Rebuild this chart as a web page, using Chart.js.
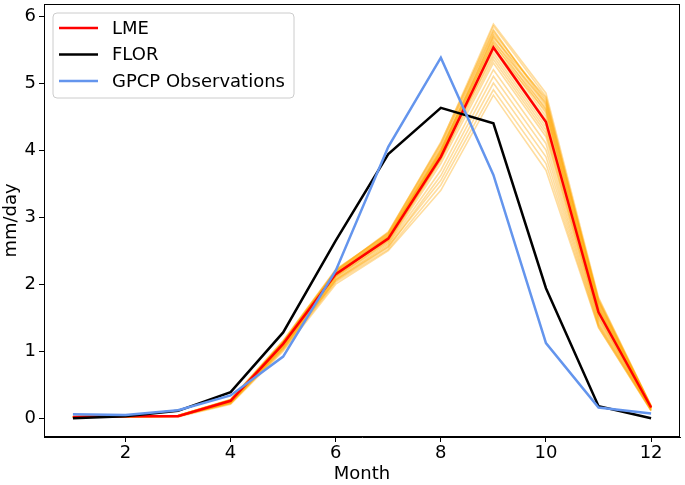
<!DOCTYPE html>
<html>
<head>
<meta charset="utf-8">
<script src="https://cdn.jsdelivr.net/npm/chart.js@4.4.1/dist/chart.umd.min.js"></script>
<style>body{margin:0;background:#fff}</style>
</head>
<body>
<canvas id="chart" width="685" height="485"></canvas>
<script>
var months = [1, 2, 3, 4, 5, 6, 7, 8, 9, 10, 11, 12];
var xTicks = [2, 4, 6, 8, 10, 12];
var yTicks = [0, 1, 2, 3, 4, 5, 6];

var lme = [0.02, 0.03, 0.03, 0.26, 1.11, 2.15, 2.68, 3.90, 5.53, 4.42, 1.58, 0.16];
var flor = [0.00, 0.03, 0.11, 0.39, 1.28, 2.65, 3.94, 4.63, 4.40, 1.94, 0.18, 0.00];
var gpcp = [0.06, 0.05, 0.12, 0.34, 0.92, 2.20, 4.05, 5.38, 3.63, 1.12, 0.16, 0.07];

// individual LME ensemble members (faint orange)
var lmeMembers = [
  [0.02, 0.03, 0.04, 0.28, 1.15, 2.22, 2.75, 4.05, 5.85, 4.80, 1.75, 0.18],
  [0.02, 0.03, 0.03, 0.25, 1.08, 2.12, 2.70, 4.00, 5.78, 4.72, 1.70, 0.17],
  [0.03, 0.03, 0.04, 0.27, 1.13, 2.18, 2.72, 3.98, 5.72, 4.65, 1.68, 0.17],
  [0.02, 0.02, 0.03, 0.24, 1.10, 2.16, 2.66, 3.95, 5.70, 4.60, 1.62, 0.16],
  [0.02, 0.03, 0.03, 0.26, 1.12, 2.20, 2.78, 4.10, 5.88, 4.85, 1.80, 0.19],
  [0.02, 0.03, 0.03, 0.25, 1.09, 2.14, 2.69, 3.92, 5.65, 4.55, 1.60, 0.16],
  [0.02, 0.03, 0.04, 0.27, 1.14, 2.19, 2.74, 4.02, 5.62, 4.70, 1.72, 0.18],
  [0.02, 0.03, 0.03, 0.26, 1.11, 2.17, 2.71, 3.96, 5.60, 4.50, 1.65, 0.16],
  [0.02, 0.02, 0.03, 0.23, 1.06, 2.10, 2.64, 3.88, 5.55, 4.45, 1.55, 0.15],
  [0.02, 0.03, 0.03, 0.25, 1.10, 2.13, 2.67, 3.90, 5.50, 4.40, 1.58, 0.15],
  [0.02, 0.03, 0.03, 0.24, 1.07, 2.11, 2.62, 3.85, 5.45, 4.35, 1.52, 0.14],
  [0.02, 0.03, 0.03, 0.26, 1.12, 2.16, 2.70, 3.94, 5.40, 4.30, 1.50, 0.15],
  [0.02, 0.03, 0.04, 0.28, 1.16, 2.21, 2.76, 4.08, 5.75, 4.75, 1.78, 0.18],
  [0.02, 0.03, 0.03, 0.25, 1.09, 2.12, 2.65, 3.86, 5.35, 4.25, 1.48, 0.14],
  [0.02, 0.02, 0.03, 0.23, 1.05, 2.08, 2.60, 3.80, 5.30, 4.20, 1.45, 0.13],
  [0.02, 0.03, 0.03, 0.24, 1.06, 2.07, 2.58, 3.70, 5.20, 4.10, 1.42, 0.13],
  [0.02, 0.02, 0.03, 0.22, 1.03, 2.05, 2.55, 3.62, 5.10, 4.00, 1.40, 0.12],
  [0.02, 0.03, 0.03, 0.23, 1.04, 2.06, 2.56, 3.55, 5.00, 3.90, 1.38, 0.12],
  [0.02, 0.02, 0.03, 0.22, 1.02, 2.03, 2.52, 3.48, 4.90, 3.80, 1.36, 0.11],
  [0.02, 0.02, 0.02, 0.21, 1.00, 2.00, 2.50, 3.40, 4.82, 3.70, 1.35, 0.11],
  [0.02, 0.03, 0.04, 0.27, 1.13, 2.18, 2.73, 4.00, 5.68, 4.78, 1.74, 0.17],
  [0.02, 0.03, 0.03, 0.26, 1.11, 2.15, 2.70, 3.97, 5.58, 4.62, 1.66, 0.16],
  [0.02, 0.03, 0.03, 0.25, 1.10, 2.14, 2.68, 3.93, 5.52, 4.58, 1.63, 0.16],
  [0.02, 0.03, 0.04, 0.27, 1.14, 2.20, 2.77, 4.12, 5.80, 4.68, 1.76, 0.18]
];

var legendItems = [
  { label: "LME", color: "#ff0000" },
  { label: "FLOR", color: "#000000" },
  { label: "GPCP Observations", color: "#6495ed" }
];

var FONT = "'DejaVu Sans', sans-serif";
var FSIZE = 18;

function toPoints(vals) {
  return vals.map(function (v, i) { return { x: months[i], y: v }; });
}

function line(label, vals, color, width) {
  return {
    label: label,
    data: toPoints(vals),
    borderColor: color,
    borderWidth: width,
    pointRadius: 0,
    tension: 0,
    fill: false
  };
}

// index 0 is drawn on top
var datasets = [
  line("GPCP Observations", gpcp, "#6495ed", 2.5),
  line("FLOR", flor, "#000000", 2.5),
  line("LME", lme, "#ff0000", 2.5)
];
lmeMembers.forEach(function (m, i) {
  datasets.push(line("member " + (i + 1), m, "rgba(255,165,0,0.38)", 1.6));
});

var framePlugin = {
  id: "frame",
  afterDraw: function (chart) {
    var ctx = chart.ctx, a = chart.chartArea;
    ctx.save();
    ctx.strokeStyle = "#000";
    ctx.lineWidth = 1;
    ctx.strokeRect(a.left + 0.5, a.top + 0.5, a.right - a.left - 1, a.bottom - a.top - 1);

    // legend box
    var x = 53, y = 13, w = 241, h = 85, r = 4;
    ctx.beginPath();
    ctx.moveTo(x + r, y);
    ctx.arcTo(x + w, y, x + w, y + h, r);
    ctx.arcTo(x + w, y + h, x, y + h, r);
    ctx.arcTo(x, y + h, x, y, r);
    ctx.arcTo(x, y, x + w, y, r);
    ctx.closePath();
    ctx.fillStyle = "rgba(255,255,255,0.8)";
    ctx.fill();
    ctx.strokeStyle = "#cccccc";
    ctx.stroke();

    ctx.font = FSIZE + "px " + FONT;
    ctx.textBaseline = "middle";
    ctx.textAlign = "left";
    legendItems.forEach(function (it, i) {
      var ly = 28 + i * 26.5;
      ctx.beginPath();
      ctx.strokeStyle = it.color;
      ctx.lineWidth = 2.5;
      ctx.moveTo(59, ly);
      ctx.lineTo(98, ly);
      ctx.stroke();
      ctx.fillStyle = "#000";
      ctx.fillText(it.label, 112, ly + 1);
    });
    ctx.restore();
  }
};

new Chart(document.getElementById("chart"), {
  type: "line",
  data: { datasets: datasets },
  plugins: [framePlugin],
  options: {
    responsive: false,
    animation: false,
    layout: { padding: { top: 4, right: 5, left: 0, bottom: 0 } },
    plugins: { legend: { display: false }, tooltip: { enabled: false } },
    scales: {
      x: {
        type: "linear",
        min: 0.45,
        max: 12.55,
        afterBuildTicks: function (s) { s.ticks = xTicks.map(function (v) { return { value: v }; }); },
        afterFit: function (s) { s.height = 48; s.paddingLeft = 0; s.paddingRight = 0; },
        grid: { drawOnChartArea: false, drawTicks: true, tickLength: 5, color: "#000" },
        border: { display: true, color: "#000" },
        ticks: { color: "#000", font: { family: FONT, size: FSIZE }, padding: 1, maxRotation: 0 },
        title: { display: true, text: "Month", color: "#000", font: { family: FONT, size: FSIZE }, padding: 0 }
      },
      y: {
        min: -0.28,
        max: 6.18,
        afterBuildTicks: function (s) { s.ticks = yTicks.map(function (v) { return { value: v }; }); },
        afterFit: function (s) { s.width = 44; s.paddingTop = 0; s.paddingBottom = 0; },
        grid: { drawOnChartArea: false, drawTicks: true, tickLength: 5, color: "#000" },
        border: { display: true, color: "#000" },
        ticks: { color: "#000", font: { family: FONT, size: FSIZE }, padding: 3 },
        title: { display: true, text: "mm/day", color: "#000", font: { family: FONT, size: FSIZE }, padding: { top: 1, bottom: 0 } }
      }
    }
  }
});
</script>
</body>
</html>
